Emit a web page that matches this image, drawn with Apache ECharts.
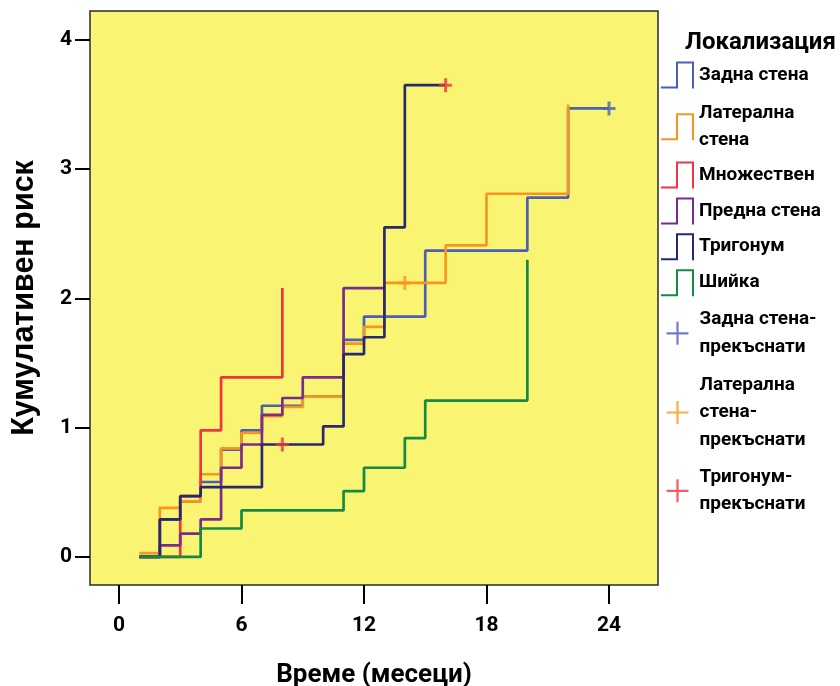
<!DOCTYPE html>
<html>
<head>
<meta charset="utf-8">
<script src="https://cdn.jsdelivr.net/npm/echarts@6/dist/echarts.min.js"></script>
<style>
  html, body { margin: 0; padding: 0; background: #ffffff; }
  #chart { width: 840px; height: 686px; }
</style>
</head>
<body>
<div id="chart"></div>
<script>
// Cumulative hazard step curves by tumour location (months vs. cumulative risk)
const categories = ['Задна стена', 'Латерална стена', 'Множествен', 'Предна стена', 'Тригонум', 'Шийка'];

const zadnaT = [1, 2, 3, 4, 5, 6, 7, 9, 11, 12, 15, 20, 22, 24];
const zadnaV = [0, 0.29, 0.43, 0.58, 0.83, 0.98, 1.17, 1.24, 1.68, 1.86, 2.37, 2.78, 3.47, 3.47];

const lateralnaT = [1, 2, 3, 4, 5, 6, 7, 8, 9, 11, 12, 13, 16, 18, 22];
const lateralnaV = [0.03, 0.38, 0.43, 0.64, 0.84, 0.96, 1.09, 1.16, 1.24, 1.65, 1.78, 2.12, 2.41, 2.81, 3.50];

const mnozhestvenT = [1, 3, 4, 5, 8];
const mnozhestvenV = [0, 0.47, 0.98, 1.39, 2.08];

const prednaT = [1, 2, 3, 4, 5, 6, 7, 8, 9, 11, 13];
const prednaV = [0, 0.09, 0.18, 0.29, 0.69, 0.87, 1.10, 1.23, 1.39, 2.08, 2.08];

const trigonumT = [1, 2, 3, 4, 7, 10, 11, 12, 13, 14, 16];
const trigonumV = [0, 0.29, 0.47, 0.54, 0.87, 1.01, 1.57, 1.70, 2.55, 3.65, 3.65];

const shiykaT = [1, 4, 6, 11, 12, 14, 15, 20];
const shiykaV = [0, 0.22, 0.36, 0.51, 0.69, 0.92, 1.21, 2.30];

// censored observations
const censorNames = ['Задна стена-прекъснати', 'Латерална стена-прекъснати', 'Тригонум-прекъснати'];
const zadnaCensT = [24];
const zadnaCensV = [3.47];
const lateralnaCensT = [14];
const lateralnaCensV = [2.12];
const trigonumCensT = [8, 16];
const trigonumCensV = [0.87, 3.65];

const xTicks = [0, 6, 12, 18, 24];
const yTicks = [0, 1, 2, 3, 4];

const colors = ['#4a60b4', '#f7961f', '#ee3640', '#7a2c8c', '#28296e', '#148a45'];
const censorColors = ['#4a60b4', '#f7961f', '#ee3640'];

const legendLabels = {
  'Задна стена': 'Задна стена',
  'Латерална стена': 'Латерална\nстена',
  'Множествен': 'Множествен',
  'Предна стена': 'Предна стена',
  'Тригонум': 'Тригонум',
  'Шийка': 'Шийка',
  'Задна стена-прекъснати': 'Задна стена-\nпрекъснати',
  'Латерална стена-прекъснати': 'Латерална\nстена-\nпрекъснати',
  'Тригонум-прекъснати': 'Тригонум-\nпрекъснати'
};

const NARROW = "Roboto, 'Liberation Sans', sans-serif";
const WIDE = "'Liberation Sans', Arial, sans-serif";

const zip = (t, v) => t.map((x, i) => [x, v[i]]);
const curves = [
  zip(zadnaT, zadnaV), zip(lateralnaT, lateralnaV), zip(mnozhestvenT, mnozhestvenV),
  zip(prednaT, prednaV), zip(trigonumT, trigonumV), zip(shiykaT, shiykaV)
];
const censors = [zip(zadnaCensT, zadnaCensV), zip(lateralnaCensT, lateralnaCensV), zip(trigonumCensT, trigonumCensV)];

const stepIcon = 'path://M0,25H17V27H0Z M15,0H17V27H15Z M15,0H33V2H15Z M31,0H33V27H31Z';
const plusIcon = 'path://M9.9,0H12.1V10.4H22V12.6H12.1V23H9.9V12.6H0V10.4H9.9Z';
const plusMark = 'path://M5,0H8V5.5H13V8.5H8V14H5V8.5H0V5.5H5Z';

const series = [];
categories.forEach((name, i) => {
  series.push({
    name: name,
    type: 'line',
    step: 'end',
    data: curves[i],
    showSymbol: false,
    symbol: 'none',
    color: colors[i],
    lineStyle: { color: colors[i], width: 2.7 },
    silent: true,
    z: 2
  });
});
censorNames.forEach((name, i) => {
  series.push({
    name: name,
    type: 'scatter',
    data: censors[i],
    symbol: plusMark,
    symbolSize: [13, 14],
    color: censorColors[i],
    itemStyle: { color: censorColors[i] },
    silent: true,
    z: 5
  });
});

// one legend block per entry so each can sit at its own height
const legendCenters = [75, 126.7, 175, 211, 246.7, 282.7, 333.3, 412.5, 490.8];
const legendNames = categories.concat(censorNames);
const LH = 27.5;
const legends = legendNames.map((name, i) => {
  const lines = legendLabels[name].split('\n').length;
  const isPlus = i >= categories.length;
  const h = Math.max(lines * LH, 27);
  return {
    orient: 'vertical',
    left: isPlus ? 666.5 : 661,
    top: legendCenters[i] - h / 2,
    padding: 0,
    itemWidth: isPlus ? 22 : 33,
    itemHeight: isPlus ? 23 : 27,
    selectedMode: false,
    data: [{ name: name, icon: isPlus ? plusIcon : stepIcon }],
    formatter: n => legendLabels[n],
    textStyle: {
      fontFamily: NARROW, fontWeight: 'bold', fontSize: 19, color: '#000',
      lineHeight: LH, padding: isPlus ? [0, 0, 0, 6] : 0
    }
  };
});

const chart = echarts.init(document.getElementById('chart'), null, { renderer: 'canvas' });
chart.setOption({
  animation: false,
  backgroundColor: '#ffffff',
  title: {
    text: 'Локализация',
    left: 685,
    top: 27.5,
    padding: 0,
    textStyle: { fontFamily: NARROW, fontWeight: 'bold', fontSize: 24, color: '#000', lineHeight: 30 }
  },
  legend: legends,
  grid: {
    left: 90, right: 182, top: 11, bottom: 101,
    outerBoundsMode: 'none',
    containLabel: false,
    show: true,
    backgroundColor: '#f9f572',
    borderColor: '#2a2a2a',
    borderWidth: 1.5
  },
  xAxis: {
    type: 'value',
    min: -1.42,
    max: 26.4,
    name: 'Време (месеци)',
    nameLocation: 'middle',
    nameGap: 77,
    nameTextStyle: { fontFamily: NARROW, fontWeight: 'bold', fontSize: 26, color: '#000' },
    axisLine: { show: false, onZero: false },
    axisTick: { show: true, customValues: xTicks, length: 19, lineStyle: { color: '#000', width: 2 } },
    axisLabel: {
      customValues: xTicks, margin: 30,
      fontFamily: NARROW, fontWeight: 'bold', fontSize: 21, color: '#000'
    },
    splitLine: { show: false }
  },
  yAxis: {
    type: 'value',
    min: -0.217,
    max: 4.224,
    name: 'Кумулативен риск',
    nameLocation: 'middle',
    nameGap: 50,
    nameTextStyle: { fontFamily: WIDE, fontWeight: 'bold', fontSize: 30.5, color: '#000' },
    axisLine: { show: false, onZero: false },
    axisTick: { show: true, customValues: yTicks, length: 15, lineStyle: { color: '#000', width: 2 } },
    axisLabel: {
      customValues: yTicks, margin: 18,
      fontFamily: NARROW, fontWeight: 'bold', fontSize: 21, color: '#000'
    },
    splitLine: { show: false }
  },
  series: series
});
</script>
</body>
</html>
